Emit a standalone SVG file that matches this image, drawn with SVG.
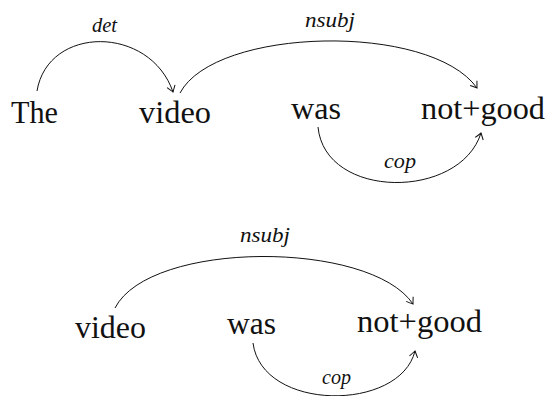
<svg xmlns="http://www.w3.org/2000/svg" width="547" height="396" viewBox="0 0 547 396">
<style>
  .w { font-family: "Liberation Serif", "Times New Roman", serif; font-size: 31px; fill: #111; }
  .l { font-family: "Liberation Serif", "Times New Roman", serif; font-size: 20px; font-style: italic; fill: #111; }
  .e { fill: none; stroke: #111; stroke-width: 1; }
</style>
<defs>
  <marker id="ah" markerUnits="userSpaceOnUse" markerWidth="12" markerHeight="12" viewBox="-8 -6 10 12" refX="0" refY="0" orient="auto">
    <path d="M-6,-4.2 Q-1.5,-1 0,0 Q-1.5,1 -6,4.2" fill="none" stroke="#111" stroke-width="1"/>
  </marker>
</defs>
<rect width="547" height="396" fill="#fff"/>
<g id="connectors">
  <path class="e" d="M37,91 C48,25 150,25 173,92" marker-end="url(#ah)"/>
  <path class="e" d="M180,93 C215,27 430,22 477,88" marker-end="url(#ah)"/>
  <path class="e" d="M318,127 C325,200 460,200 481,133" marker-end="url(#ah)"/>
  <path class="e" d="M115,308 C150,240 370,240 413,304" marker-end="url(#ah)"/>
  <path class="e" d="M253,343 C262,412 400,412 415,351" marker-end="url(#ah)"/>
</g>
<g id="labels">
  <text class="l" x="92" y="31.7" textLength="25" lengthAdjust="spacingAndGlyphs">det</text>
  <text class="l" x="305" y="27" textLength="50" lengthAdjust="spacingAndGlyphs">nsubj</text>
  <text class="l" x="384" y="168" textLength="32" lengthAdjust="spacingAndGlyphs">cop</text>
  <text class="l" x="240" y="242" textLength="50" lengthAdjust="spacingAndGlyphs">nsubj</text>
  <text class="l" x="322" y="384" textLength="29" lengthAdjust="spacingAndGlyphs">cop</text>
</g>
<g id="n-the"><text class="w" x="11" y="123.3" textLength="47" lengthAdjust="spacingAndGlyphs">The</text></g>
<g id="n-video1"><text class="w" x="139" y="123.3" textLength="72" lengthAdjust="spacingAndGlyphs">video</text></g>
<g id="n-was1"><text class="w" x="291" y="119.3" textLength="50" lengthAdjust="spacingAndGlyphs">was</text></g>
<g id="n-notgood1"><text class="w" x="421" y="119.3" textLength="124" lengthAdjust="spacingAndGlyphs">not+good</text></g>
<g id="n-video2"><text class="w" x="75" y="337.7" textLength="71" lengthAdjust="spacingAndGlyphs">video</text></g>
<g id="n-was2"><text class="w" x="227" y="333.5" textLength="49" lengthAdjust="spacingAndGlyphs">was</text></g>
<g id="n-notgood2"><text class="w" x="357" y="332" textLength="125" lengthAdjust="spacingAndGlyphs">not+good</text></g>
</svg>
